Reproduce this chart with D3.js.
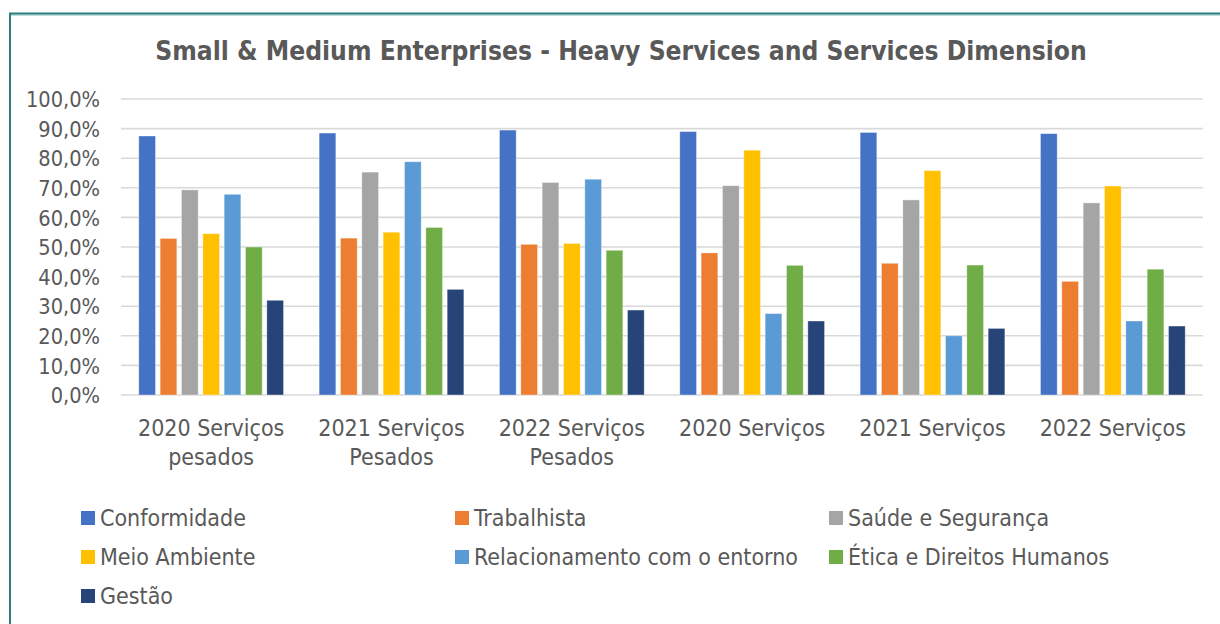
<!DOCTYPE html>
<html>
<head>
<meta charset="utf-8">
<script src="https://cdn.jsdelivr.net/npm/d3@7"></script>
<style>
  html, body { margin: 0; padding: 0; background: #fff; }
  svg { display: block; }
  text { font-family: "DejaVu Sans Condensed", "DejaVu Sans", sans-serif; font-stretch: condensed; fill: #595959; }
</style>
</head>
<body>
<svg id="chart" width="1220" height="624"></svg>
<script>
// Survey groups on the x axis (two-line labels)
const groups = [
  "2020 Serviços\npesados",
  "2021 Serviços\nPesados",
  "2022 Serviços\nPesados",
  "2020 Serviços",
  "2021 Serviços",
  "2022 Serviços"
];

// Dimensions (one series each)
const seriesNames = [
  "Conformidade",
  "Trabalhista",
  "Saúde e Segurança",
  "Meio Ambiente",
  "Relacionamento com o entorno",
  "Ética e Direitos Humanos",
  "Gestão"
];

const seriesColors = ["#4472C4", "#ED7D31", "#A5A5A5", "#FFC000", "#5B9BD5", "#70AD47", "#264478"];

// Share of compliance per dimension, in %, one value per group
const conformidade = [87.5, 88.5, 89.5, 89.0, 88.7, 88.3];
const trabalhista  = [52.9, 53.0, 50.9, 48.0, 44.5, 38.4];
const saude        = [69.3, 75.3, 71.8, 70.7, 65.9, 64.9];
const meioAmbiente = [54.5, 55.0, 51.2, 82.7, 75.8, 70.6];
const relacionamento = [67.8, 78.8, 72.9, 27.5, 20.0, 25.0];
const etica        = [50.0, 56.6, 48.9, 43.8, 43.9, 42.5];
const gestao       = [32.0, 35.7, 28.7, 25.0, 22.5, 23.3];

const yTicks = [0, 10, 20, 30, 40, 50, 60, 70, 80, 90, 100];

const seriesValues = [conformidade, trabalhista, saude, meioAmbiente, relacionamento, etica, gestao];

const svg = d3.select("#chart");

// Frame lines (top and left edge)
svg.append("line").attr("x1", 9).attr("x2", 1220).attr("y1", 15).attr("y2", 15)
  .attr("stroke", "#a9d4d4").attr("stroke-width", 1.5);
svg.append("line").attr("x1", 9).attr("x2", 1220).attr("y1", 13.5).attr("y2", 13.5)
  .attr("stroke", "#2f7c7c").attr("stroke-width", 2);
svg.append("line").attr("x1", 10).attr("x2", 10).attr("y1", 13).attr("y2", 624)
  .attr("stroke", "#2f7c7c").attr("stroke-width", 2);

// Title
svg.append("text")
  .attr("x", 621).attr("y", 59.5)
  .attr("text-anchor", "middle")
  .style("font-weight", "bold")
  .style("font-size", "26.2px")
  .text("Small & Medium Enterprises - Heavy Services and Services Dimension");

const plot = { left: 121, right: 1203, top: 99, bottom: 395 };

const x0 = d3.scaleBand().domain(groups).range([plot.left, plot.right]).paddingInner(0).paddingOuter(0);
const x1 = d3.scaleBand().domain(seriesNames).range([0, x0.bandwidth()]).paddingInner(0.217).paddingOuter(0.834);
const y = d3.scaleLinear().domain([0, 100]).range([plot.bottom, plot.top]);

// Gridlines
svg.append("g")
  .selectAll("line")
  .data(yTicks)
  .join("line")
  .attr("x1", plot.left).attr("x2", plot.right)
  .attr("y1", d => y(d)).attr("y2", d => y(d))
  .attr("stroke", "#d9d9d9").attr("stroke-width", 1.6);

// Y axis labels
const yAxis = d3.axisLeft(y).tickValues(yTicks).tickSize(0).tickPadding(0)
  .tickFormat(d => d3.format(".1f")(d).replace(".", ",") + "%");
const yG = svg.append("g").attr("transform", `translate(${plot.left - 21},0)`).call(yAxis);
yG.select(".domain").remove();
yG.selectAll("text").style("font-size", "21.6px").attr("fill", "#595959").attr("dy", "0.36em");

// Bars
const groupG = svg.append("g")
  .selectAll("g")
  .data(groups)
  .join("g")
  .attr("transform", d => `translate(${x0(d)},0)`);

groupG.selectAll("rect")
  .data((g, gi) => seriesNames.map((s, si) => ({ s, si, v: seriesValues[si][gi] })))
  .join("rect")
  .attr("x", d => x1(d.s))
  .attr("width", x1.bandwidth())
  .attr("y", d => y(d.v))
  .attr("height", d => y(0) - y(d.v))
  .attr("fill", d => seriesColors[d.si])
  .attr("stroke", "#ffffff")
  .attr("stroke-opacity", 0.45)
  .attr("stroke-width", 0.8);

// X axis labels
const xAxis = d3.axisBottom(x0).tickSize(0).tickPadding(0).tickFormat("");
const xG = svg.append("g").attr("transform", `translate(0,${plot.bottom})`).call(xAxis);
xG.select(".domain").remove();
xG.selectAll(".tick").each(function (d) {
  const t = d3.select(this).append("text")
    .attr("text-anchor", "middle")
    .attr("fill", "#595959")
    .style("font-size", "23px");
  d.split("\n").forEach((line, i) => {
    t.append("tspan").attr("x", 0).attr("y", 41 + i * 29).text(line);
  });
});

// Legend
const legendCols = [81, 455, 829];
const legendRows = [518, 557, 596];
const legend = svg.append("g")
  .selectAll("g")
  .data(seriesNames)
  .join("g")
  .attr("transform", (d, i) => `translate(${legendCols[i % 3]},${legendRows[Math.floor(i / 3)]})`);
legend.append("rect")
  .attr("x", 0).attr("y", -7).attr("width", 14).attr("height", 14)
  .attr("fill", (d, i) => seriesColors[i]);
legend.append("text")
  .attr("x", 19).attr("y", 0).attr("dy", "0.36em")
  .style("font-size", "23px")
  .text(d => d);
</script>
</body>
</html>
